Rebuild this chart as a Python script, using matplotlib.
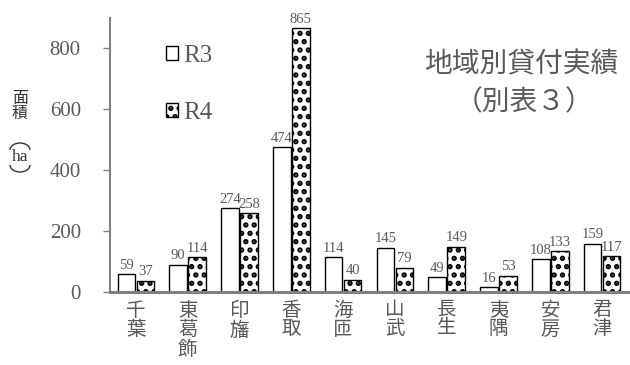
import matplotlib
matplotlib.use("Agg")
import matplotlib.pyplot as plt
from matplotlib.patches import Arc
import numpy as np

categories = ["千葉", "東葛飾", "印旛", "香取", "海匝", "山武", "長生", "夷隅", "安房", "君津"]
r3 = [59, 90, 274, 474, 114, 145, 49, 16, 108, 159]
r4 = [37, 114, 258, 865, 40, 79, 149, 53, 133, 117]
yticks = [0, 200, 400, 600, 800]

fam = ["Liberation Serif", "Noto Sans CJK JP", "DejaVu Sans"]
plt.rcParams['font.family'] = fam
plt.rcParams['hatch.linewidth'] = 2.6
gray = "#595959"
W, H = 630, 365

fig = plt.figure(figsize=(6.3, 3.65), dpi=100)
ax = fig.add_axes([110 / W, 0.2, (628 - 110) / W, 0.752])
x = np.arange(len(categories))
w = 0.34
b3 = ax.bar(x - 0.185, r3, w, facecolor="white", edgecolor="black", linewidth=1.0)
b4 = ax.bar(x + 0.185, r4, w, facecolor="white", edgecolor="black", linewidth=1.0, hatch="..")

for xi, v in zip(x, r3):
    ax.text(xi - 0.185, v + 8, str(v), ha="center", va="bottom", fontsize=10.5, color=gray)
for xi, v in zip(x, r4):
    ax.text(xi + 0.185, v + 8, str(v), ha="center", va="bottom", fontsize=10.5, color=gray)

ax.set_xlim(-0.5, 9.5)
ax.set_ylim(0, 900)
ax.set_yticks(yticks)
ax.set_yticklabels([str(t) for t in yticks], fontsize=15, color=gray)
ax.set_xticks(x)
ax.set_xticklabels(["\n".join(c) for c in categories], fontsize=14, color=gray,
                   va="top", linespacing=1.1)
ax.tick_params(axis="x", length=0, pad=7)
ax.tick_params(axis="y", length=5, width=1, color="#808080", pad=16)
for s in ["top", "right"]:
    ax.spines[s].set_visible(False)
ax.spines["left"].set_color("#808080")
ax.spines["left"].set_linewidth(1.5)
ax.spines["bottom"].set_color("#808080")
ax.spines["bottom"].set_linewidth(2.2)

# legend
ax.legend([b3, b4], ["R3", "R4"], loc="upper left", bbox_to_anchor=(0.108, 0.9),
          frameon=False, fontsize=18, handlelength=0.5, handleheight=0.5,
          handletextpad=0.2, labelspacing=1.4, labelcolor=gray,
          borderpad=0, borderaxespad=0)

fig.text(521 / W, 1 - 65 / H, "地域別貸付実績", ha="center", va="center", fontsize=20, color=gray)
fig.text(524 / W, 1 - 103 / H, "（別表３）", ha="center", va="center", fontsize=20, color=gray)

# vertical y-axis label
lab = "#333333"
fig.text(20 / W, 1 - 99 / H, "面", ha="center", va="center", fontsize=11.5, color=lab)
fig.text(20 / W, 1 - 114 / H, "積", ha="center", va="center", fontsize=11.5, color=lab)
fig.text(20 / W, 1 - 157 / H, "ha", ha="center", va="center", fontsize=12.5, color=lab)
fig.add_artist(Arc((20 / W, 1 - 150 / H), 20 / W, 14 / H, theta1=0, theta2=180,
                   transform=fig.transFigure, color=lab, linewidth=1.0))
fig.add_artist(Arc((20 / W, 1 - 165 / H), 20 / W, 14 / H, theta1=180, theta2=360,
                   transform=fig.transFigure, color=lab, linewidth=1.0))

fig.savefig("out.png", dpi=100)
